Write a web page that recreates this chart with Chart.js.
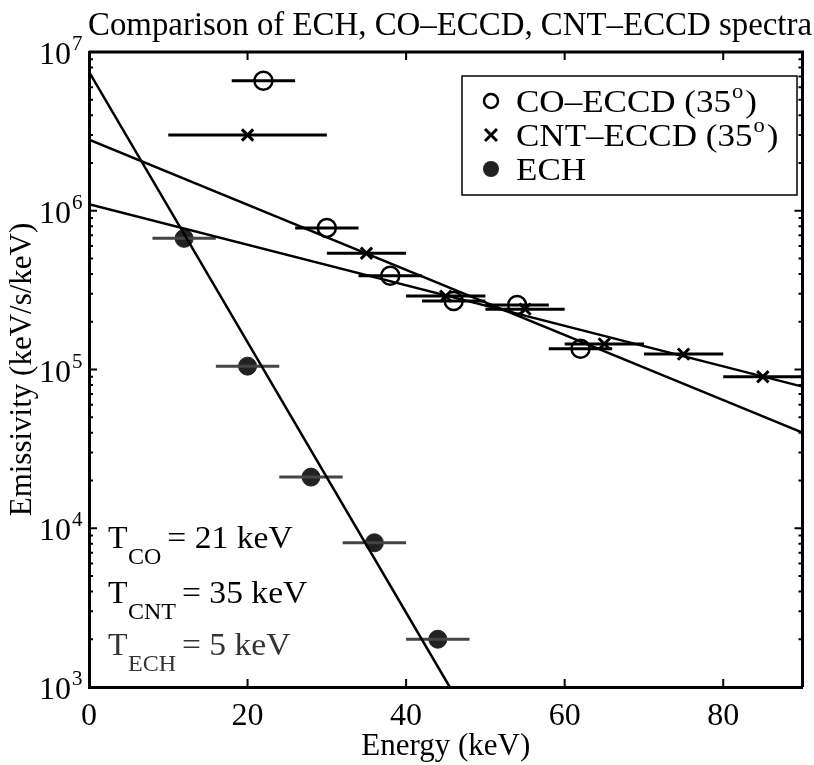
<!DOCTYPE html>
<html>
<head>
<meta charset="utf-8">
<script src="https://cdn.jsdelivr.net/npm/chart.js@4.4.1/dist/chart.umd.min.js"></script>
<style>
  html, body { margin: 0; padding: 0; background: #fff; }
</style>
</head>
<body>
<canvas id="spectra" width="814" height="765"></canvas>
<script>
// ==========================
// DATA
// ==========================
const coEnergy = [22, 30, 38, 46, 54, 62];
const coEmis   = [6.6e6, 7.8e5, 3.9e5, 2.7e5, 2.55e5, 1.35e5];
const coLo     = [18, 26, 34, 42, 50, 58];
const coHi     = [26, 34, 42, 50, 58, 66];

const cntEnergy = [20, 35, 45, 55, 65, 75, 85];
const cntEmis   = [3.0e6, 5.4e5, 2.9e5, 2.4e5, 1.45e5, 1.25e5, 9.0e4];
const cntLo     = [10, 30, 40, 50, 60, 70, 80];
const cntHi     = [30, 40, 50, 60, 70, 80, 90];

const echEnergy = [12, 20, 28, 36, 44];
const echEmis   = [6.7e5, 1.05e5, 2.1e4, 8.1e3, 2.0e3];
const echLo     = [8, 16, 24, 32, 40];
const echHi     = [16, 24, 32, 40, 48];

// straight-line fits (end points)
const coFitE  = [0, 90];
const coFitY  = [2.8e6, 4.0e4];
const cntFitE = [0, 90];
const cntFitY = [1.1e6, 7.8e4];
const echFitE = [0, 45.5];
const echFitY = [7.5e6, 1.0e3];

// axes
const xTicks = [0, 20, 40, 60, 80];
const yDecades = [1e3, 1e4, 1e5, 1e6, 1e7];
const yExponents = ["3", "4", "5", "6", "7"];
const yMinorMult = [2, 3, 4, 5, 6, 7, 8, 9];

const titleText = "Comparison of ECH, CO\u2013ECCD, CNT\u2013ECCD spectra";
const legendNames = ["CO\u2013ECCD (35", "CNT\u2013ECCD (35", "ECH"];
const tempNames = ["CO", "CNT", "ECH"];
const tempValues = ["21 keV", "35 keV", "5 keV"];

const FONT = "Liberation Serif";

// ==========================
// HELPERS
// ==========================
function toPoints(xs, ys) {
  return xs.map((x, i) => ({ x: x, y: ys[i] }));
}

function toBars(lo, hi, ys) {
  const pts = [];
  ys.forEach((y, i) => {
    pts.push({ x: lo[i], y: y });
    pts.push({ x: hi[i], y: y });
    pts.push({ x: hi[i], y: null });
  });
  return pts;
}

function lineSet(data, width, color) {
  return {
    data: data,
    showLine: true,
    borderColor: color,
    borderWidth: width,
    pointRadius: 0,
    spanGaps: false
  };
}

// text stretched a bit wider, like the scanned figure
function wideText(ctx, text, x, y, sx) {
  ctx.save();
  ctx.translate(x, y);
  ctx.scale(sx, 1);
  ctx.fillText(text, 0, 0);
  ctx.restore();
  return ctx.measureText(text).width * sx;
}

// ==========================
// FRAME / TEXT PLUGIN
// ==========================
const matlabLook = {
  id: "matlabLook",
  afterDatasetsDraw(chart) {
    const ctx = chart.ctx;
    const a = chart.chartArea;
    const xs = chart.scales.x;
    const ys = chart.scales.y;
    ctx.save();
    ctx.strokeStyle = "#000";
    ctx.lineWidth = 3;
    ctx.beginPath();
    ctx.moveTo(a.left, a.top);
    ctx.lineTo(a.right, a.top);
    ctx.lineTo(a.right, a.bottom);
    ctx.stroke();

    // inward ticks
    ctx.lineWidth = 2;
    ctx.beginPath();
    xTicks.forEach(v => {
      const px = xs.getPixelForValue(v);
      ctx.moveTo(px, a.bottom); ctx.lineTo(px, a.bottom - 8);
      ctx.moveTo(px, a.top); ctx.lineTo(px, a.top + 8);
    });
    yDecades.forEach((d, k) => {
      const py = ys.getPixelForValue(d);
      ctx.moveTo(a.left, py); ctx.lineTo(a.left + 8, py);
      ctx.moveTo(a.right, py); ctx.lineTo(a.right - 8, py);
      if (k < yDecades.length - 1) {
        yMinorMult.forEach(m => {
          const pm = ys.getPixelForValue(d * m);
          ctx.moveTo(a.left, pm); ctx.lineTo(a.left + 4, pm);
          ctx.moveTo(a.right, pm); ctx.lineTo(a.right - 4, pm);
        });
      }
    });
    ctx.stroke();
    ctx.restore();
  },
  afterDraw(chart) {
    const ctx = chart.ctx;
    const ys = chart.scales.y;
    ctx.save();
    ctx.fillStyle = "#000";

    // title
    ctx.font = "33px '" + FONT + "'";
    ctx.textAlign = "center";
    ctx.textBaseline = "alphabetic";
    ctx.fillText(titleText, 450, 35, 724);

    // y tick labels 10^n
    yDecades.forEach((d, k) => {
      const py = ys.getPixelForValue(d);
      ctx.font = "32px '" + FONT + "'";
      ctx.textAlign = "right";
      ctx.fillText("10", 71, py + 12);
      ctx.font = "21px '" + FONT + "'";
      ctx.textAlign = "left";
      ctx.fillText(yExponents[k], 72, py - 2);
    });

    // legend box
    const lx = 462, ly = 76, lw = 335, lh = 119;
    ctx.fillStyle = "#fff";
    ctx.fillRect(lx, ly, lw, lh);
    ctx.strokeStyle = "#000";
    ctx.lineWidth = 1.5;
    ctx.strokeRect(lx, ly, lw, lh);
    const rows = [101, 135, 169];
    const mx = 491, tx = 516;
    ctx.lineWidth = 2.5;
    ctx.beginPath();
    ctx.arc(mx, rows[0], 7, 0, Math.PI * 2);
    ctx.stroke();
    ctx.lineWidth = 3;
    ctx.beginPath();
    ctx.moveTo(mx - 6, rows[1] - 6); ctx.lineTo(mx + 6, rows[1] + 6);
    ctx.moveTo(mx + 6, rows[1] - 6); ctx.lineTo(mx - 6, rows[1] + 6);
    ctx.stroke();
    ctx.fillStyle = "#222";
    ctx.beginPath();
    ctx.arc(mx, rows[2], 8, 0, Math.PI * 2);
    ctx.fill();

    ctx.fillStyle = "#000";
    ctx.textAlign = "left";
    const sx = 1.13;
    legendNames.forEach((name, i) => {
      ctx.font = "31px '" + FONT + "'";
      const base = rows[i] + 11;
      const w = wideText(ctx, name, tx, base, sx);
      if (i < 2) {
        ctx.font = "20px '" + FONT + "'";
        const wo = wideText(ctx, "o", tx + w + 1, base - 14, sx);
        ctx.font = "31px '" + FONT + "'";
        wideText(ctx, ")", tx + w + wo + 3, base, sx);
      }
    });

    // temperatures
    const tBase = [548, 603, 655];
    tempNames.forEach((sub, i) => {
      ctx.fillStyle = i === 2 ? "#333" : "#000";
      ctx.font = "32px '" + FONT + "'";
      ctx.fillText("T", 108, tBase[i]);
      ctx.font = "24px '" + FONT + "'";
      ctx.fillText(sub, 128, tBase[i] + 16);
      const ws = ctx.measureText(sub).width;
      ctx.font = "32px '" + FONT + "'";
      wideText(ctx, "= " + tempValues[i], 128 + ws + 6, tBase[i], 1.05);
    });
    ctx.restore();
  }
};

// ==========================
// CHART
// ==========================
const ctx = document.getElementById("spectra").getContext("2d");

new Chart(ctx, {
  type: "scatter",
  data: {
    datasets: [
      lineSet(toPoints(coFitE, coFitY), 2.5, "#000"),
      lineSet(toPoints(cntFitE, cntFitY), 2.5, "#000"),
      lineSet(toPoints(echFitE, echFitY), 2.5, "#000"),
      lineSet(toBars(coLo, coHi, coEmis), 3, "#000"),
      lineSet(toBars(cntLo, cntHi, cntEmis), 3, "#000"),
      lineSet(toBars(echLo, echHi, echEmis), 3, "#444"),
      {
        label: "CO-ECCD (35o)",
        data: toPoints(coEnergy, coEmis),
        pointStyle: "circle",
        pointRadius: 9,
        pointBorderWidth: 2.5,
        borderColor: "#000",
        backgroundColor: "rgba(0,0,0,0)"
      },
      {
        label: "CNT-ECCD (35o)",
        data: toPoints(cntEnergy, cntEmis),
        pointStyle: "crossRot",
        pointRadius: 8,
        pointBorderWidth: 3,
        borderColor: "#000",
        backgroundColor: "#000"
      },
      {
        label: "ECH",
        data: toPoints(echEnergy, echEmis),
        pointStyle: "circle",
        pointRadius: 9,
        pointBorderWidth: 1,
        borderColor: "#222",
        backgroundColor: "#222"
      }
    ]
  },
  options: {
    responsive: false,
    animation: false,
    devicePixelRatio: 1,
    layout: { padding: { top: 52, right: 7, left: 0, bottom: 0 } },
    plugins: {
      legend: { display: false },
      tooltip: { enabled: false }
    },
    scales: {
      x: {
        type: "linear",
        min: 0,
        max: 90,
        afterFit: s => { s.height = 78; },
        afterBuildTicks: s => { s.ticks = xTicks.map(v => ({ value: v })); },
        grid: { display: false, drawTicks: false },
        border: { display: true, color: "#000", width: 3 },
        ticks: {
          color: "#000",
          padding: 10,
          maxRotation: 0,
          font: { family: FONT, size: 32 }
        },
        title: {
          display: true,
          text: "Energy (keV)",
          color: "#000",
          padding: { top: 0, bottom: 0 },
          font: { family: FONT, size: 31 }
        }
      },
      y: {
        type: "logarithmic",
        min: 1e3,
        max: 1e7,
        afterFit: s => { s.width = 89; },
        grid: { display: false, drawTicks: false },
        border: { display: true, color: "#000", width: 3 },
        ticks: { display: false },
        title: {
          display: true,
          text: "Emissivity (keV/s/keV)",
          color: "#000",
          padding: { top: 4, bottom: 0 },
          font: { family: FONT, size: 31 }
        }
      }
    }
  },
  plugins: [matlabLook]
});
</script>
</body>
</html>
